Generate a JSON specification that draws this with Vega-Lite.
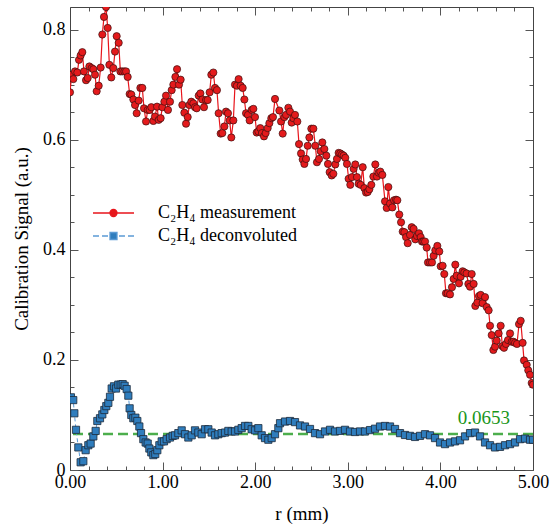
{
  "$schema": "https://vega.github.io/schema/vega-lite/v6.json",
  "width": 463,
  "height": 463,
  "autosize": {"type": "none"},
  "padding": {"left": 70, "top": 7, "right": 17, "bottom": 59},
  "background": "white",
  "datasets": {
    "measurement": [
      {"r":0.000,"signal":0.686},{"r":0.018,"signal":0.718},{"r":0.036,"signal":0.710},{"r":0.054,"signal":0.724},{"r":0.079,"signal":0.722},{"r":0.097,"signal":0.745},{"r":0.115,"signal":0.753},{"r":0.133,"signal":0.759},{"r":0.151,"signal":0.724},{"r":0.173,"signal":0.708},{"r":0.191,"signal":0.712},{"r":0.209,"signal":0.733},{"r":0.234,"signal":0.730},{"r":0.252,"signal":0.728},{"r":0.270,"signal":0.718},{"r":0.288,"signal":0.688},{"r":0.310,"signal":0.698},{"r":0.331,"signal":0.731},{"r":0.349,"signal":0.791},{"r":0.367,"signal":0.823},{"r":0.389,"signal":0.841},{"r":0.407,"signal":0.803},{"r":0.425,"signal":0.736},{"r":0.446,"signal":0.713},{"r":0.468,"signal":0.730},{"r":0.486,"signal":0.760},{"r":0.504,"signal":0.788},{"r":0.526,"signal":0.776},{"r":0.544,"signal":0.724},{"r":0.565,"signal":0.724},{"r":0.587,"signal":0.724},{"r":0.605,"signal":0.724},{"r":0.623,"signal":0.714},{"r":0.644,"signal":0.683},{"r":0.662,"signal":0.682},{"r":0.684,"signal":0.673},{"r":0.702,"signal":0.663},{"r":0.720,"signal":0.648},{"r":0.742,"signal":0.671},{"r":0.760,"signal":0.694},{"r":0.781,"signal":0.694},{"r":0.799,"signal":0.657},{"r":0.821,"signal":0.633},{"r":0.839,"signal":0.654},{"r":0.860,"signal":0.654},{"r":0.878,"signal":0.659},{"r":0.900,"signal":0.634},{"r":0.918,"signal":0.642},{"r":0.940,"signal":0.660},{"r":0.958,"signal":0.636},{"r":0.979,"signal":0.639},{"r":0.997,"signal":0.659},{"r":1.019,"signal":0.669},{"r":1.037,"signal":0.680},{"r":1.058,"signal":0.654},{"r":1.080,"signal":0.669},{"r":1.098,"signal":0.690},{"r":1.116,"signal":0.700},{"r":1.138,"signal":0.714},{"r":1.156,"signal":0.728},{"r":1.177,"signal":0.700},{"r":1.195,"signal":0.709},{"r":1.213,"signal":0.663},{"r":1.235,"signal":0.649},{"r":1.253,"signal":0.629},{"r":1.271,"signal":0.641},{"r":1.289,"signal":0.663},{"r":1.310,"signal":0.669},{"r":1.332,"signal":0.666},{"r":1.350,"signal":0.659},{"r":1.368,"signal":0.657},{"r":1.390,"signal":0.680},{"r":1.408,"signal":0.684},{"r":1.429,"signal":0.673},{"r":1.447,"signal":0.659},{"r":1.469,"signal":0.672},{"r":1.487,"signal":0.672},{"r":1.508,"signal":0.686},{"r":1.526,"signal":0.718},{"r":1.548,"signal":0.722},{"r":1.566,"signal":0.694},{"r":1.587,"signal":0.690},{"r":1.605,"signal":0.648},{"r":1.627,"signal":0.611},{"r":1.645,"signal":0.612},{"r":1.667,"signal":0.624},{"r":1.685,"signal":0.651},{"r":1.706,"signal":0.648},{"r":1.724,"signal":0.635},{"r":1.742,"signal":0.604},{"r":1.764,"signal":0.635},{"r":1.782,"signal":0.700},{"r":1.803,"signal":0.698},{"r":1.821,"signal":0.710},{"r":1.843,"signal":0.698},{"r":1.865,"signal":0.694},{"r":1.883,"signal":0.673},{"r":1.901,"signal":0.648},{"r":1.922,"signal":0.645},{"r":1.940,"signal":0.635},{"r":1.962,"signal":0.654},{"r":1.980,"signal":0.656},{"r":1.998,"signal":0.641},{"r":2.016,"signal":0.613},{"r":2.034,"signal":0.615},{"r":2.055,"signal":0.621},{"r":2.073,"signal":0.612},{"r":2.095,"signal":0.606},{"r":2.113,"signal":0.612},{"r":2.135,"signal":0.621},{"r":2.153,"signal":0.630},{"r":2.174,"signal":0.639},{"r":2.192,"signal":0.641},{"r":2.214,"signal":0.674},
      {"r":2.261,"signal":0.653},{"r":2.279,"signal":0.633},{"r":2.297,"signal":0.611},{"r":2.315,"signal":0.641},{"r":2.333,"signal":0.645},{"r":2.358,"signal":0.658},{"r":2.376,"signal":0.651},{"r":2.394,"signal":0.631},{"r":2.412,"signal":0.639},{"r":2.430,"signal":0.645},{"r":2.455,"signal":0.633},{"r":2.473,"signal":0.592},{"r":2.495,"signal":0.575},{"r":2.513,"signal":0.564},{"r":2.531,"signal":0.556},{"r":2.549,"signal":0.565},{"r":2.567,"signal":0.589},{"r":2.585,"signal":0.604},{"r":2.606,"signal":0.620},{"r":2.628,"signal":0.620},{"r":2.649,"signal":0.589},{"r":2.667,"signal":0.559},{"r":2.689,"signal":0.565},{"r":2.707,"signal":0.579},{"r":2.725,"signal":0.595},{"r":2.747,"signal":0.583},{"r":2.768,"signal":0.571},{"r":2.786,"signal":0.556},{"r":2.804,"signal":0.541},{"r":2.826,"signal":0.535},{"r":2.844,"signal":0.538},{"r":2.865,"signal":0.555},{"r":2.883,"signal":0.565},{"r":2.901,"signal":0.576},{"r":2.919,"signal":0.575},{"r":2.937,"signal":0.573},{"r":2.955,"signal":0.571},{"r":2.973,"signal":0.567},{"r":2.991,"signal":0.556},{"r":3.009,"signal":0.529},{"r":3.027,"signal":0.518},{"r":3.045,"signal":0.532},{"r":3.063,"signal":0.547},{"r":3.081,"signal":0.555},{"r":3.099,"signal":0.532},{"r":3.117,"signal":0.520},{"r":3.139,"signal":0.518},{"r":3.161,"signal":0.550},{"r":3.179,"signal":0.512},{"r":3.197,"signal":0.504},{"r":3.215,"signal":0.505},{"r":3.233,"signal":0.510},{"r":3.254,"signal":0.518},{"r":3.276,"signal":0.533},{"r":3.297,"signal":0.555},{"r":3.315,"signal":0.533},{"r":3.333,"signal":0.540},{"r":3.351,"signal":0.542},{"r":3.373,"signal":0.536},
      {"r":3.402,"signal":0.488},{"r":3.420,"signal":0.476},{"r":3.438,"signal":0.514},{"r":3.456,"signal":0.484},{"r":3.481,"signal":0.477},{"r":3.499,"signal":0.490},{"r":3.521,"signal":0.491},{"r":3.535,"signal":0.490},{"r":3.556,"signal":0.464},{"r":3.575,"signal":0.450},{"r":3.593,"signal":0.433},{"r":3.611,"signal":0.432},{"r":3.629,"signal":0.423},{"r":3.647,"signal":0.412},{"r":3.672,"signal":0.427},{"r":3.690,"signal":0.441},{"r":3.711,"signal":0.438},{"r":3.729,"signal":0.419},{"r":3.747,"signal":0.425},{"r":3.769,"signal":0.430},{"r":3.787,"signal":0.423},{"r":3.801,"signal":0.415},{"r":3.816,"signal":0.415},{"r":3.834,"signal":0.415},{"r":3.852,"signal":0.404},{"r":3.866,"signal":0.377},{"r":3.888,"signal":0.377},{"r":3.909,"signal":0.377},{"r":3.927,"signal":0.389},{"r":3.945,"signal":0.399},{"r":3.967,"signal":0.407},{"r":3.988,"signal":0.397},{"r":4.003,"signal":0.370},{"r":4.024,"signal":0.371},{"r":4.042,"signal":0.356},{"r":4.060,"signal":0.321},{"r":4.078,"signal":0.321},{"r":4.104,"signal":0.319},{"r":4.125,"signal":0.332},{"r":4.143,"signal":0.347},{"r":4.161,"signal":0.373},{"r":4.176,"signal":0.353},{"r":4.201,"signal":0.339},{"r":4.219,"signal":0.351},{"r":4.240,"signal":0.361},{"r":4.258,"signal":0.359},{"r":4.283,"signal":0.357},{"r":4.302,"signal":0.338},{"r":4.320,"signal":0.333},{"r":4.338,"signal":0.356},{"r":4.359,"signal":0.338},{"r":4.377,"signal":0.298},{"r":4.399,"signal":0.304},{"r":4.417,"signal":0.316},{"r":4.435,"signal":0.318},{"r":4.456,"signal":0.303},{"r":4.482,"signal":0.314},{"r":4.500,"signal":0.296},{"r":4.521,"signal":0.290},{"r":4.536,"signal":0.262},{"r":4.554,"signal":0.245},{"r":4.572,"signal":0.218},{"r":4.590,"signal":0.224},{"r":4.608,"signal":0.235},{"r":4.629,"signal":0.248},{"r":4.651,"signal":0.262},{"r":4.669,"signal":0.225},{"r":4.687,"signal":0.222},{"r":4.708,"signal":0.229},{"r":4.730,"signal":0.236},{"r":4.752,"signal":0.248},{"r":4.770,"signal":0.233},{"r":4.788,"signal":0.233},{"r":4.806,"signal":0.231},{"r":4.827,"signal":0.229},{"r":4.849,"signal":0.265},{"r":4.867,"signal":0.271},{"r":4.888,"signal":0.231},{"r":4.903,"signal":0.199},{"r":4.932,"signal":0.191},{"r":4.949,"signal":0.181},{"r":4.968,"signal":0.173},{"r":4.986,"signal":0.158},{"r":5.000,"signal":0.155}
    ],
    "deconvoluted": [
      {"r":0.010,"signal":0.132},{"r":0.035,"signal":0.127},{"r":0.047,"signal":0.103},{"r":0.065,"signal":0.073},{"r":0.090,"signal":0.041},{"r":0.115,"signal":0.014},{"r":0.144,"signal":0.016},{"r":0.169,"signal":0.036},{"r":0.198,"signal":0.045},{"r":0.223,"signal":0.048},{"r":0.252,"signal":0.061},{"r":0.277,"signal":0.071},{"r":0.295,"signal":0.089},{"r":0.324,"signal":0.094},{"r":0.349,"signal":0.101},{"r":0.371,"signal":0.109},{"r":0.392,"signal":0.116},{"r":0.414,"signal":0.122},{"r":0.432,"signal":0.133},{"r":0.450,"signal":0.148},{"r":0.475,"signal":0.152},{"r":0.497,"signal":0.148},{"r":0.522,"signal":0.155},{"r":0.547,"signal":0.155},{"r":0.569,"signal":0.156},{"r":0.590,"signal":0.153},{"r":0.612,"signal":0.147},{"r":0.630,"signal":0.135},{"r":0.644,"signal":0.112},{"r":0.662,"signal":0.100},{"r":0.684,"signal":0.094},{"r":0.706,"signal":0.095},{"r":0.727,"signal":0.089},{"r":0.749,"signal":0.079},{"r":0.767,"signal":0.067},{"r":0.792,"signal":0.056},{"r":0.817,"signal":0.050},{"r":0.839,"signal":0.048},{"r":0.857,"signal":0.039},{"r":0.878,"signal":0.032},{"r":0.900,"signal":0.027},{"r":0.921,"signal":0.029},{"r":0.943,"signal":0.036},{"r":0.965,"signal":0.045},{"r":0.990,"signal":0.052},{"r":1.015,"signal":0.052},{"r":1.044,"signal":0.056},{"r":1.080,"signal":0.059},{"r":1.109,"signal":0.062},{"r":1.134,"signal":0.063},{"r":1.170,"signal":0.067},{"r":1.206,"signal":0.072},{"r":1.242,"signal":0.065},{"r":1.278,"signal":0.059},{"r":1.314,"signal":0.063},{"r":1.350,"signal":0.072},{"r":1.386,"signal":0.068},{"r":1.422,"signal":0.065},{"r":1.458,"signal":0.074},{"r":1.494,"signal":0.074},{"r":1.530,"signal":0.068},{"r":1.566,"signal":0.063},{"r":1.602,"signal":0.065},{"r":1.638,"signal":0.067},{"r":1.674,"signal":0.068},{"r":1.710,"signal":0.071},{"r":1.746,"signal":0.070},{"r":1.782,"signal":0.070},{"r":1.818,"signal":0.073},{"r":1.854,"signal":0.076},{"r":1.890,"signal":0.080},{"r":1.926,"signal":0.080},{"r":1.962,"signal":0.074},{"r":1.998,"signal":0.072},{"r":2.034,"signal":0.076},{"r":2.070,"signal":0.063},{"r":2.106,"signal":0.058},{"r":2.142,"signal":0.055},{"r":2.178,"signal":0.058},{"r":2.214,"signal":0.065},{"r":2.250,"signal":0.076},{"r":2.268,"signal":0.085},{"r":2.322,"signal":0.088},{"r":2.376,"signal":0.089},{"r":2.430,"signal":0.087},{"r":2.484,"signal":0.081},{"r":2.538,"signal":0.079},{"r":2.592,"signal":0.0745},{"r":2.646,"signal":0.067},{"r":2.700,"signal":0.065},{"r":2.754,"signal":0.070},{"r":2.808,"signal":0.073},{"r":2.862,"signal":0.070},{"r":2.916,"signal":0.071},{"r":2.970,"signal":0.073},{"r":3.024,"signal":0.070},{"r":3.078,"signal":0.069},{"r":3.132,"signal":0.070},{"r":3.186,"signal":0.070},{"r":3.240,"signal":0.0725},{"r":3.294,"signal":0.075},{"r":3.348,"signal":0.079},{"r":3.402,"signal":0.080},{"r":3.456,"signal":0.079},{"r":3.510,"signal":0.0745},{"r":3.564,"signal":0.067},{"r":3.618,"signal":0.0636},{"r":3.672,"signal":0.062},{"r":3.726,"signal":0.060},{"r":3.780,"signal":0.062},{"r":3.834,"signal":0.065},{"r":3.888,"signal":0.063},{"r":3.942,"signal":0.058},{"r":3.996,"signal":0.050},{"r":4.050,"signal":0.047},{"r":4.104,"signal":0.050},{"r":4.158,"signal":0.052},{"r":4.212,"signal":0.054},{"r":4.266,"signal":0.061},{"r":4.320,"signal":0.067},{"r":4.374,"signal":0.068},{"r":4.428,"signal":0.061},{"r":4.482,"signal":0.050},{"r":4.536,"signal":0.045},{"r":4.590,"signal":0.041},{"r":4.644,"signal":0.042},{"r":4.698,"signal":0.045},{"r":4.752,"signal":0.047},{"r":4.806,"signal":0.050},{"r":4.860,"signal":0.056},{"r":4.914,"signal":0.057},{"r":4.968,"signal":0.055},{"r":5.000,"signal":0.055}
    ],
    "reference": [{"level": 0.0653}],
    "series": [{"series": "C₂H₄ measurement"}, {"series": "C₂H₄ deconvoluted"}]
  },
  "layer": [
    {
      "data": {"name": "reference"},
      "mark": {"type": "rule", "color": "#4cae4c", "strokeWidth": 2.6, "strokeDash": [10, 5]},
      "encoding": {
        "y": {"field": "level", "type": "quantitative", "scale": {"domain": [0, 0.841], "nice": false}, "axis": null}
      }
    },
    {
      "data": {"name": "deconvoluted"},
      "mark": {"type": "line", "color": "#5b9bd5", "strokeWidth": 1, "strokeDash": [4, 3], "clip": true},
      "encoding": {
        "x": {"field": "r", "type": "quantitative", "scale": {"domain": [0, 5], "nice": false, "zero": false},
          "axis": {"orient": "bottom", "title": "r (mm)", "values": [0,0.2,0.4,0.6,0.8,1,1.2,1.4,1.6,1.8,2,2.2,2.4,2.6,2.8,3,3.2,3.4,3.6,3.8,4,4.2,4.4,4.6,4.8,5],
            "labelExpr": "abs(datum.value - round(datum.value)) < 1e-6 ? format(datum.value, '.2f') : ''",
            "tickSize": {"condition": {"test": "abs(datum.value - round(datum.value)) < 1e-6", "value": -8}, "value": -4},
            "labelPadding": 11, "titlePadding": 13, "labelFlush": false}},
        "y": {"field": "signal", "type": "quantitative", "scale": {"domain": [0, 0.841], "nice": false},
          "axis": {"orient": "left", "title": "Calibration Signal (a.u.)", "values": [0,0.05,0.1,0.15,0.2,0.25,0.3,0.35,0.4,0.45,0.5,0.55,0.6,0.65,0.7,0.75,0.8],
            "labelExpr": "abs(datum.value*5 - round(datum.value*5)) < 1e-6 ? format(datum.value, '.1~f') : ''",
            "tickSize": {"condition": {"test": "abs(datum.value*5 - round(datum.value*5)) < 1e-6", "value": -8}, "value": -4},
            "labelPadding": 13, "titlePadding": 11}}
      }
    },
    {
      "data": {"name": "deconvoluted"},
      "mark": {"type": "point", "shape": "square", "filled": true, "fill": "#2f7dbd", "stroke": "#1c2a3a", "strokeWidth": 0.8, "size": 52, "opacity": 1, "clip": true},
      "encoding": {
        "x": {"field": "r", "type": "quantitative", "scale": {"domain": [0, 5], "nice": false, "zero": false},
          "axis": {"orient": "top", "title": null, "labels": false, "values": [0,0.2,0.4,0.6,0.8,1,1.2,1.4,1.6,1.8,2,2.2,2.4,2.6,2.8,3,3.2,3.4,3.6,3.8,4,4.2,4.4,4.6,4.8,5],
            "tickSize": {"condition": {"test": "abs(datum.value - round(datum.value)) < 1e-6", "value": -8}, "value": -4}}},
        "y": {"field": "signal", "type": "quantitative", "scale": {"domain": [0, 0.841], "nice": false},
          "axis": {"orient": "right", "title": null, "labels": false, "values": [0,0.05,0.1,0.15,0.2,0.25,0.3,0.35,0.4,0.45,0.5,0.55,0.6,0.65,0.7,0.75,0.8],
            "tickSize": {"condition": {"test": "abs(datum.value*5 - round(datum.value*5)) < 1e-6", "value": -8}, "value": -4}}}
      }
    },
    {
      "data": {"name": "measurement"},
      "mark": {"type": "line", "color": "#e8141b", "strokeWidth": 1.2, "clip": true},
      "encoding": {
        "x": {"field": "r", "type": "quantitative", "scale": {"domain": [0, 5], "nice": false, "zero": false}, "axis": null},
        "y": {"field": "signal", "type": "quantitative", "scale": {"domain": [0, 0.841], "nice": false}, "axis": null}
      }
    },
    {
      "data": {"name": "measurement"},
      "mark": {"type": "point", "shape": "circle", "filled": true, "fill": "#e41a1c", "stroke": "#3a1010", "strokeWidth": 0.7, "size": 52, "opacity": 1, "clip": true},
      "encoding": {
        "x": {"field": "r", "type": "quantitative", "scale": {"domain": [0, 5], "nice": false, "zero": false}, "axis": null},
        "y": {"field": "signal", "type": "quantitative", "scale": {"domain": [0, 0.841], "nice": false}, "axis": null}
      }
    },
    {
      "data": {"name": "reference"},
      "mark": {"type": "text", "color": "#1a961a", "font": "Liberation Serif, DejaVu Serif, serif", "fontSize": 19, "align": "center", "baseline": "alphabetic", "dy": -10},
      "encoding": {
        "x": {"datum": 4.47, "type": "quantitative", "axis": null},
        "y": {"field": "level", "type": "quantitative", "scale": {"domain": [0, 0.841], "nice": false}, "axis": null},
        "text": {"field": "level", "type": "quantitative", "format": ".4f"}
      }
    },
    {
      "data": {"name": "series"},
      "transform": [{"filter": "false"}],
      "mark": {"type": "point", "filled": true, "opacity": 1},
      "encoding": {
        "shape": {"field": "series", "type": "nominal",
          "scale": {"domain": ["C₂H₄ measurement", "C₂H₄ deconvoluted"],
            "range": ["M-2.93,0H2.93M0.5,0A0.5,0.5,0,1,1,-0.5,0A0.5,0.5,0,1,1,0.5,0Z",
                      "M-2.93,0H-2.07M-1.64,0H-0.78M0.78,0H1.64M2.07,0H2.93M-0.5,-0.5H0.5V0.5H-0.5Z"]},
          "legend": {"orient": "none", "legendX": 34.5, "legendY": 197, "title": null, "padding": 0,
            "symbolSize": 196, "symbolStrokeWidth": 1.3, "symbolOpacity": 1, "labelOffset": 35.5, "rowPadding": 5,
            "labelFont": "Liberation Serif, DejaVu Serif, serif", "labelFontSize": 18, "labelColor": "black", "labelLimit": 400}},
        "fill": {"field": "series", "type": "nominal",
          "scale": {"domain": ["C₂H₄ measurement", "C₂H₄ deconvoluted"], "range": ["#e41a1c", "#2f7dbd"]}},
        "stroke": {"field": "series", "type": "nominal",
          "scale": {"domain": ["C₂H₄ measurement", "C₂H₄ deconvoluted"], "range": ["#e8141b", "#5b9bd5"]}}
      }
    }
  ],
  "resolve": {"axis": {"x": "independent", "y": "independent"}},
  "config": {
    "font": "Liberation Serif, DejaVu Serif, serif",
    "view": {"stroke": null},
    "axis": {
      "grid": false,
      "labelFont": "Liberation Serif, DejaVu Serif, serif",
      "labelFontSize": 18,
      "labelColor": "black",
      "titleFont": "Liberation Serif, DejaVu Serif, serif",
      "titleFontSize": 19,
      "titleFontWeight": "normal",
      "titleColor": "black",
      "domainColor": "#444444",
      "domainWidth": 1,
      "tickColor": "#555555",
      "tickWidth": 1
    }
  }
}
